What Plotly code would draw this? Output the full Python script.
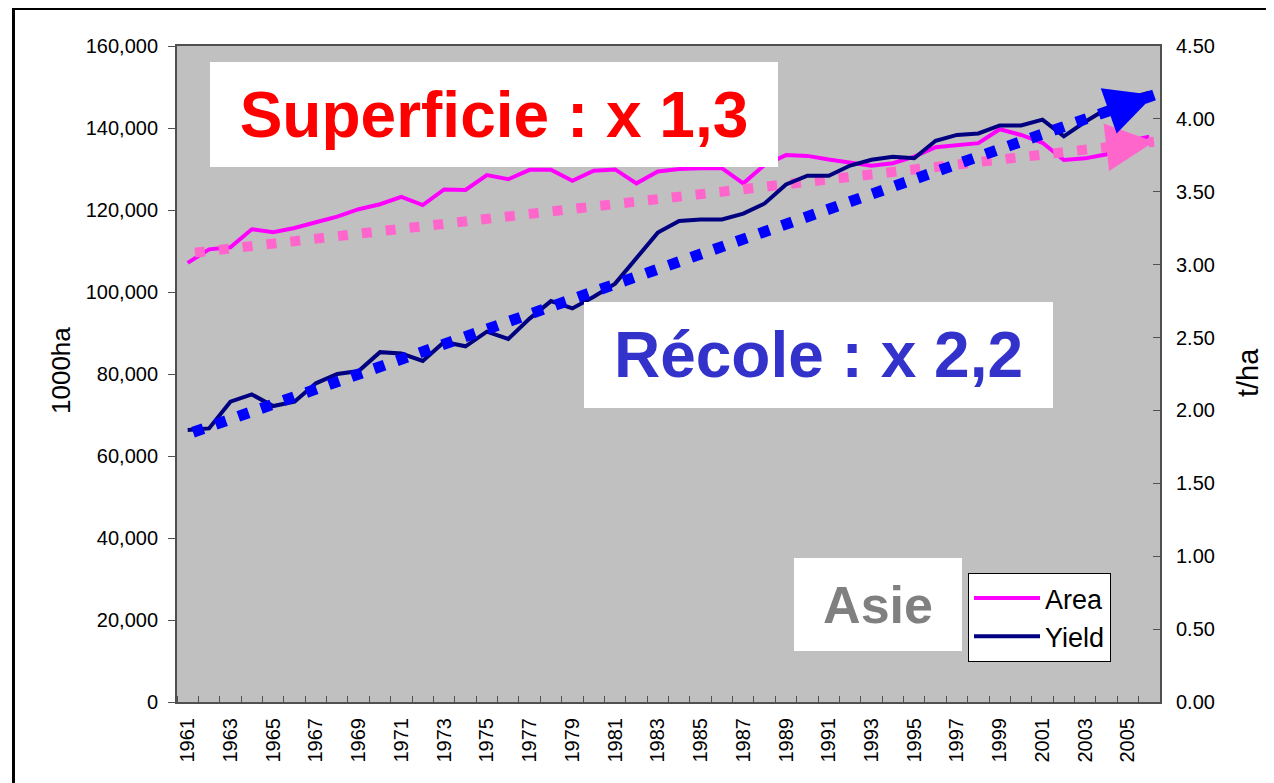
import plotly.graph_objects as go

# ---------------- data ----------------
years = list(range(1961, 2007))
area = [107100, 110400, 110900, 115300, 114600, 115600, 117000, 118400, 120200, 121400,
        123200, 121200, 125000, 124900, 128500, 127500, 129800, 129800, 127100, 129600,
        129900, 126500, 129400, 130000, 130200, 130200, 126500, 131000, 133400, 133200,
        132300, 131500, 130800, 131400, 133000, 135300, 135700, 136300, 139700, 138300,
        136400, 132200, 132600, 133600, 136800, 137900]
yield_t = [1.866, 1.877, 2.06, 2.11, 2.03, 2.06, 2.186, 2.25, 2.27, 2.40,
           2.39, 2.34, 2.47, 2.44, 2.54, 2.49, 2.63, 2.75, 2.70, 2.78,
           2.87, 3.05, 3.22, 3.30, 3.31, 3.31, 3.35, 3.42, 3.55, 3.61,
           3.61, 3.68, 3.72, 3.74, 3.73, 3.85, 3.89, 3.90, 3.955, 3.955,
           3.995, 3.88, 3.98, 4.07, 4.14, 4.18]

tick_years = list(range(1961, 2006, 2))
tick_labels = [str(y) for y in tick_years]
boundaries = [y - 0.5 for y in years] + [years[-1] + 0.5]

trend_area_years = [1961.34, 2006.22]
trend_area = [109600, 136650]
trend_yield_years = [1961.25, 2006.22]
trend_yield = [1.85, 4.164]

# ---------------- geometry helpers (page pixels) ----------------
W, H = 1274, 783
OFF = 8  # page body margin
L, R, T, B = 177, 1160, 46, 702  # plot area in page pixels


def px(x):
    return (x - L) / (R - L)


def py(y):
    return (B - y) / (B - T)


def interp(xs, ys, x):
    return ys[0] + (ys[1] - ys[0]) * (x - xs[0]) / (xs[1] - xs[0])


FONT = "Arial, Liberation Sans, sans-serif"

fig = go.Figure()
fig.add_trace(go.Scatter(x=years, y=area, name="Area", mode="lines",
                         line=dict(color="#FF00FF", width=4), yaxis="y"))
fig.add_trace(go.Scatter(x=years, y=yield_t, name="Yield", mode="lines",
                         line=dict(color="#000080", width=4), yaxis="y2"))
fig.add_trace(go.Scatter(x=trend_area_years, y=trend_area, mode="lines", showlegend=False,
                         line=dict(color="#FF66CC", width=10, dash="10px,14px"), yaxis="y"))
fig.add_trace(go.Scatter(x=trend_yield_years, y=trend_yield, mode="lines", showlegend=False,
                         line=dict(color="#0000FF", width=11, dash="11px,13px"), yaxis="y2"))

annotations = []
# arrow heads at the end of the trend lines
for xs, ys, yref, col in [(trend_area_years, trend_area, "y", "#FF66CC"),
                          (trend_yield_years, trend_yield, "y2", "#0000FF")]:
    tail_x = xs[1] - 1.2
    annotations.append(dict(x=xs[1], y=ys[1], xref="x", yref=yref,
                            ax=tail_x, ay=interp(xs, ys, tail_x), axref="x", ayref=yref,
                            text="", showarrow=True, arrowhead=2, arrowsize=4.8,
                            arrowwidth=2, arrowcolor=col))

# text boxes
annotations.append(dict(x=px(494), y=py(114.5), xref="paper", yref="paper",
                        text="<b>Superficie : x 1,3</b>", showarrow=False,
                        font=dict(family=FONT, size=64, color="#FF0000"),
                        bgcolor="#FFFFFF", width=568, height=105, borderwidth=0, borderpad=0,
                        xanchor="center", yanchor="middle"))
annotations.append(dict(x=px(818.5), y=py(355), xref="paper", yref="paper",
                        text="<b>Récole : x 2,2</b>", showarrow=False,
                        font=dict(family=FONT, size=64, color="#3333CC"),
                        bgcolor="#FFFFFF", width=469, height=106, borderwidth=0, borderpad=0,
                        xanchor="center", yanchor="middle"))
annotations.append(dict(x=px(877.5), y=py(604), xref="paper", yref="paper",
                        text="<b>Asie</b>", showarrow=False,
                        font=dict(family=FONT, size=52, color="#808080"),
                        bgcolor="#FFFFFF", width=168, height=93, borderwidth=0, borderpad=0,
                        xanchor="center", yanchor="middle"))
# axis titles
annotations.append(dict(x=px(61), y=py(371), xref="paper", yref="paper", text="1000ha",
                        showarrow=False, textangle=-90,
                        font=dict(family=FONT, size=26, color="#000000"),
                        xanchor="center", yanchor="middle"))
annotations.append(dict(x=px(1248), y=py(373), xref="paper", yref="paper", text="t/ha",
                        showarrow=False, textangle=-90,
                        font=dict(family=FONT, size=29, color="#000000"),
                        xanchor="center", yanchor="middle"))

shapes = [dict(type="rect", xref="paper", yref="paper",
               x0=px(13.5), x1=px(1320), y0=py(8.5), y1=py(820),
               line=dict(color="#000000", width=3), fillcolor="rgba(0,0,0,0)", layer="below")]

AXCOL = "#505050"
fig.update_layout(
    width=W, height=H,
    margin=dict(l=L - OFF, r=W - (R - OFF), t=T - OFF, b=H - (B - OFF), pad=0),
    paper_bgcolor="#FFFFFF", plot_bgcolor="#C0C0C0",
    font=dict(family=FONT, size=20, color="#000000"),
    xaxis=dict(range=[1960.5, 2006.5], tickmode="array", tickvals=tick_years, ticktext=tick_labels,
               tickangle=-90, ticks="", showgrid=False, zeroline=False,
               showline=True, linecolor=AXCOL, linewidth=2, mirror=True,
               tickfont=dict(size=20), ticklabelstandoff=6,
               minor=dict(tickmode="array", tickvals=boundaries, ticks="inside",
                          ticklen=6, tickcolor=AXCOL, tickwidth=1, showgrid=False)),
    yaxis=dict(range=[0, 160000], dtick=20000, tickformat=",d", showgrid=False, zeroline=False,
               showline=True, linecolor=AXCOL, linewidth=2, ticks="outside", ticklen=7,
               tickcolor=AXCOL, tickfont=dict(size=20), ticklabelstandoff=6),
    yaxis2=dict(range=[0, 4.5], dtick=0.5, tickformat=".2f", overlaying="y", side="right",
                showgrid=False, zeroline=False, showline=True, linecolor=AXCOL, linewidth=2,
                ticks="inside", ticklen=7, tickcolor=AXCOL, tickfont=dict(size=20),
                ticklabelstandoff=10),
    legend=dict(x=px(968), y=py(573), xanchor="left", yanchor="top",
                bgcolor="#FFFFFF", bordercolor="#000000", borderwidth=1, itemwidth=66,
                font=dict(family=FONT, size=27, color="#000000")),
    annotations=annotations,
    shapes=shapes,
    showlegend=True,
)

fig.write_html("out.html")
